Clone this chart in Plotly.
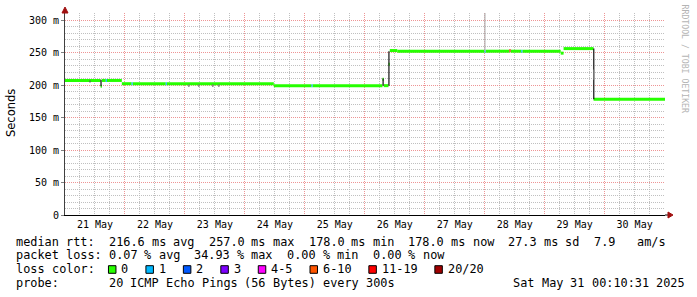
import re
import plotly.graph_objects as go
import pandas as pd

# ---------------- data ----------------
# median RTT (ms) as constant segments, with loss bucket index
seg_start = ["2025-05-21 00:00", "2025-05-21 14:15", "2025-05-21 14:45", "2025-05-21 16:20", "2025-05-21 16:45",
             "2025-05-21 22:45", "2025-05-22 02:40", "2025-05-22 03:05", "2025-05-22 16:20", "2025-05-22 16:45",
             "2025-05-24 11:35", "2025-05-25 02:40", "2025-05-25 03:05", "2025-05-26 07:05", "2025-05-26 07:35",
             "2025-05-26 09:30", "2025-05-26 10:00", "2025-05-26 13:00", "2025-05-27 23:55", "2025-05-28 00:20",
             "2025-05-28 09:55", "2025-05-28 10:20", "2025-05-28 14:40", "2025-05-28 15:05", "2025-05-29 06:25",
             "2025-05-29 07:35", "2025-05-29 19:35"]
seg_end = ["2025-05-21 14:15", "2025-05-21 14:45", "2025-05-21 16:20", "2025-05-21 16:45", "2025-05-21 22:45",
           "2025-05-22 02:40", "2025-05-22 03:05", "2025-05-22 16:20", "2025-05-22 16:45", "2025-05-24 11:35",
           "2025-05-25 02:40", "2025-05-25 03:05", "2025-05-26 07:05", "2025-05-26 07:35", "2025-05-26 09:30",
           "2025-05-26 10:00", "2025-05-26 13:00", "2025-05-27 23:55", "2025-05-28 00:20", "2025-05-28 09:55",
           "2025-05-28 10:20", "2025-05-28 14:40", "2025-05-28 15:05", "2025-05-29 06:25", "2025-05-29 07:35",
           "2025-05-29 19:35", "2025-05-31 00:10:31"]
seg_ms = [207, 198, 207, 207, 207,
          202, 202, 202, 202, 202,
          199, 199, 199, 209, 199,
          232, 253, 252, 252, 252,
          253, 252, 252, 252, 249,
          256, 178]
seg_loss = [0, 0, 0, 1, 0,
            0, 1, 0, 1, 0,
            0, 1, 0, 0, 0,
            0, 0, 0, 1, 0,
            6, 0, 1, 0, 0,
            0, 0]

loss_labels = ["0", "1", "2", "3", "4-5", "6-10", "11-19", "20/20"]
loss_colors = ["#26ff00", "#00b8ff", "#0059ff", "#7e00ff", "#ff00ff", "#ff5500", "#ff0000", "#a00000"]

# smoke (spread of pings) drawn as thin vertical ranges
smoke_time = ["2025-05-21 10:00", "2025-05-21 14:25", "2025-05-23 01:35", "2025-05-23 05:35", "2025-05-23 11:10",
              "2025-05-23 13:35", "2025-05-26 07:20", "2025-05-26 09:40", "2025-05-28 00:05", "2025-05-29 19:40",
              "2025-05-29 19:45"]
smoke_lo = [204, 198, 197, 197, 197, 197, 199, 199, 252, 178, 208]
smoke_hi = [207, 208, 201, 201, 201, 201, 210, 252, 330, 256, 224]
smoke_color = ["#555555", "#111111", "#777777", "#777777", "#777777", "#777777", "#111111", "#111111",
               "#b0b0b0", "#111111", "#999999"]

day_ticks = ["2025-05-21", "2025-05-22", "2025-05-23", "2025-05-24", "2025-05-25", "2025-05-26",
             "2025-05-27", "2025-05-28", "2025-05-29", "2025-05-30", "2025-05-31"]
day_labels = ["21 May", "22 May", "23 May", "24 May", "25 May", "26 May", "27 May", "28 May", "29 May", "30 May", ""]

y_tick_vals = [0, 50, 100, 150, 200, 250, 300]
y_tick_text = ["0", "50 m", "100 m", "150 m", "200 m", "250 m", "300 m"]

row_rtt = "median rtt:  216.6 ms avg  257.0 ms max  178.0 ms min  178.0 ms now  27.3 ms sd  7.9   am/s"
row_loss = "packet loss: 0.07 % avg  34.93 % max  0.00 % min  0.00 % now"
row_color = "loss color:"
row_probe = "probe:       20 ICMP Echo Pings (56 Bytes) every 300s"
row_date = "Sat May 31 00:10:31 2025"

x_start = "2025-05-21 00:00:00"
x_end = "2025-05-31 00:10:31"
y_top = 310.77

# ---------------- layout geometry ----------------
W, H = 697, 297
L, R, T, B = 65, 31.5, 13, 82
PW = W - L - R
PH = H - T - B
CW = 7.14          # monospace advance in px
FS = 11.86         # monospace font size


def pxx(px):
    return (px - L) / PW


def pxy(py):
    return (T + PH - py) / PH


fig = go.Figure()

# median line, grouped by loss colour
for k in sorted(set(seg_loss)):
    xs, ys = [], []
    for s, e, v, lo in zip(seg_start, seg_end, seg_ms, seg_loss):
        if lo == k:
            xs += [s, e, None]
            ys += [v, v, None]
    fig.add_trace(go.Scatter(x=xs, y=ys, mode="lines", line=dict(color=loss_colors[k], width=3),
                             hoverinfo="skip", showlegend=False))

# smoke
for t, lo, hi, c in zip(smoke_time, smoke_lo, smoke_hi, smoke_color):
    fig.add_trace(go.Scatter(x=[t, t], y=[lo, hi], mode="lines", line=dict(color=c, width=1.2),
                             hoverinfo="skip", showlegend=False))

# grid helper values (layout only)
six_hours = [t for t in pd.date_range(x_start, "2025-05-31 00:00", freq="6h")
             if not (t.hour == 0 and t.minute == 0)]
minor_y = [v for v in range(10, 311, 10) if v % 50 != 0]

mono = "DejaVu Sans Mono"
grid_red = "rgba(235,130,130,0.85)"
grid_gray = "rgba(185,185,185,0.9)"

fig.update_layout(
    width=W, height=H,
    margin=dict(l=L, r=R, t=T, b=B, pad=0),
    paper_bgcolor="white", plot_bgcolor="white",
    showlegend=False,
    xaxis=dict(
        type="date", range=[x_start, x_end],
        tickmode="array", tickvals=day_ticks, ticktext=day_labels,
        ticklabelshift=30, ticks="", showgrid=True, gridcolor=grid_red, griddash="1px,1px", gridwidth=1,
        minor=dict(tickmode="array", tickvals=list(six_hours), showgrid=True, gridcolor=grid_gray,
                   griddash="1px,1px", gridwidth=1, ticks=""),
        showline=True, linecolor="#000000", linewidth=1, zeroline=False,
        tickfont=dict(family=mono, size=10, color="#000000"),
        fixedrange=True,
    ),
    yaxis=dict(
        range=[0, y_top], tickmode="array", tickvals=y_tick_vals, ticktext=y_tick_text,
        ticks="outside", ticklen=3, tickcolor="#808080",
        showgrid=True, gridcolor=grid_red, griddash="1px,1px", gridwidth=1,
        minor=dict(tickmode="array", tickvals=minor_y, showgrid=True, gridcolor=grid_gray,
                   griddash="1px,1px", gridwidth=1, ticks=""),
        showline=True, linecolor="#404040", linewidth=1, zeroline=False,
        tickfont=dict(family=mono, size=10, color="#000000"),
        fixedrange=True,
    ),
)

# axis arrows
arrow_col = "#a01010"
fig.add_shape(type="path", xref="paper", yref="paper", xsizemode="pixel", ysizemode="pixel",
              xanchor=0, yanchor=1, path="M -3,0 L 3,0 L 0,6 Z",
              fillcolor=arrow_col, line=dict(color=arrow_col, width=1))
fig.add_shape(type="line", xref="paper", yref="paper", xsizemode="pixel", ysizemode="pixel",
              xanchor=1, yanchor=0, x0=0, x1=3, y0=0, y1=0, line=dict(color="#000000", width=1))
fig.add_shape(type="path", xref="paper", yref="paper", xsizemode="pixel", ysizemode="pixel",
              xanchor=1, yanchor=0, path="M 3,-3 L 3,3 L 8,0 Z",
              fillcolor=arrow_col, line=dict(color=arrow_col, width=1))


# texts
def text(px, py, s, size=FS, family=mono, color="#000000", xanchor="left", angle=0):
    fig.add_annotation(x=pxx(px), y=pxy(py), xref="paper", yref="paper", text=s,
                       showarrow=False, xanchor=xanchor, yanchor="middle", textangle=angle,
                       font=dict(family=family, size=size, color=color), borderpad=0, borderwidth=0)


def mono_row(x0, py, s):
    # place each word at its monospace column so spacing is exact
    for m in re.finditer(r"\S+", s):
        text(x0 + m.start() * CW, py, m.group(0))


row_y = [241.6, 255.4, 269.2, 282.8]
X0 = 16
mono_row(X0, row_y[0], row_rtt)
mono_row(X0, row_y[1], row_loss)
mono_row(X0, row_y[2], row_color)
mono_row(X0, row_y[3], row_probe)
mono_row(513.5, row_y[3], row_date)

# loss colour swatches
sx = 108.5
for lab, col in zip(loss_labels, loss_colors):
    fig.add_shape(type="rect", xref="paper", yref="paper",
                  x0=pxx(sx), x1=pxx(sx + 7.5), y0=pxy(265.7), y1=pxy(273.3),
                  fillcolor=col, line=dict(color="#000000", width=1))
    text(sx + 13, row_y[2], lab)
    sx += (len(lab) + 4.25) * CW

text(11, 113, "Seconds", size=11.5, family="DejaVu Sans", angle=-90, xanchor="center")
text(686, 59, "RRDTOOL / TOBI OETIKER", size=8.2, color="#b4b4b4", angle=90, xanchor="center")

fig.write_html("out.html")
